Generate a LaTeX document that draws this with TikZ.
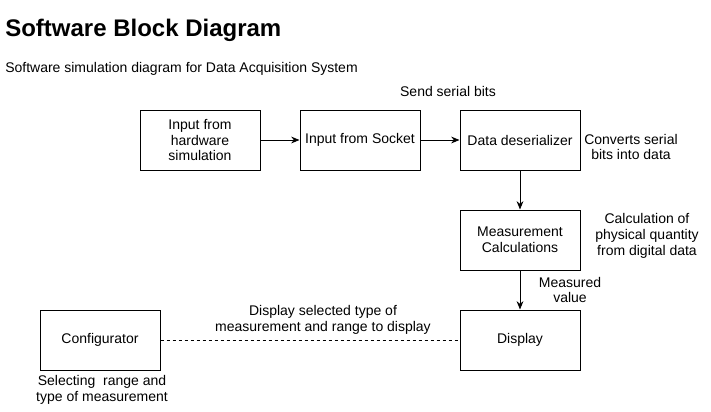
\documentclass[tikz,border=0pt]{standalone}
\usepackage{fontspec}
\setmainfont{Liberation Sans}
\usetikzlibrary{arrows.meta,positioning}

\begin{document}
\begin{tikzpicture}[
    x=0.75pt, y=-0.75pt,
    >={Stealth[length=2.2mm, width=1.8mm]},
    block/.style={rectangle, draw, line width=0.75pt, minimum width=90pt, minimum height=45pt, align=center, inner sep=2pt, font=\fontsize{10.5}{11.8}\selectfont},
    note/.style={align=center, inner sep=0pt, font=\fontsize{10.5}{11.8}\selectfont},
    link/.style={->, line width=0.75pt},
]
\useasboundingbox (0,0) rectangle (711,411);

\node[anchor=west, inner sep=0pt, font=\fontsize{18}{20}\selectfont\bfseries] (title) at (5,30) {Software Block Diagram};
\node[anchor=west, inner sep=0pt, font=\fontsize{10.5}{12}\selectfont] (subtitle) at (5,69) {Software simulation diagram for Data Acquisition System};

\node[block] (hwsim) at (200,140) {Input from\\hardware\\simulation};
\node[block] (socket) at (360,140) {Input from Socket};
\node[block] (deser) at (520,140) {Data deserializer};
\node[block] (meas) at (520,240) {Measurement\\Calculations};
\node[block] (disp) at (520,340) {Display};
\node[block] (config) at (100,340) {Configurator};

\draw[link] (hwsim) -- (socket);
\draw[link] (socket) -- (deser);
\draw[link] (deser) -- (meas);
\draw[link] (meas) -- (disp);
\draw[dashed, line width=0.6pt, dash pattern=on 2.5pt off 2pt] (config) -- (disp);

\node[note] (sendlbl) at (448,91) {Send serial bits};
\node[note] (convlbl) at (631,147) {Converts serial\\bits into data};
\node[note] (calclbl) at (647,236) {Calculation of\\physical quantity\\from digital data};
\node[note] (measlbl) at (570,290) {Measured\\value};
\node[note] (displbl) at (323,320) {Display selected type of\\measurement and range to display};
\node[note] (selbl) at (102,390) {Selecting\ \ range and\\type of measurement};
\end{tikzpicture}
\end{document}
